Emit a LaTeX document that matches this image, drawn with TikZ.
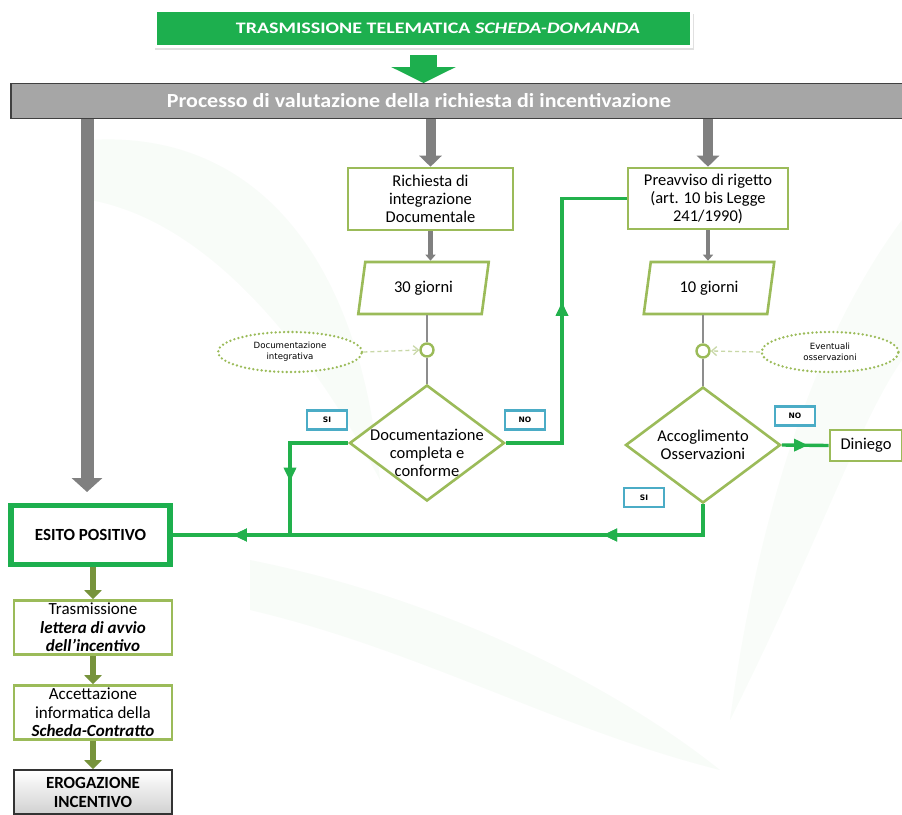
\documentclass[tikz,border=0pt]{standalone}
\usepackage{fontspec}
\setmainfont{Carlito}
\newfontfamily\vfont{DejaVu Sans}
\usetikzlibrary{arrows.meta,shapes.geometric,decorations.markings,calc}
\definecolor{gbright}{HTML}{1DAF4E}
\definecolor{conn}{HTML}{22B14C}
\definecolor{lgreen}{HTML}{9BBB59}
\definecolor{olive}{HTML}{77933C}
\definecolor{barg}{HTML}{A6A6A6}
\definecolor{darrow}{HTML}{808080}
\definecolor{sky}{HTML}{4BACC6}
\definecolor{dashc}{HTML}{C9D8A8}
\begin{document}
\begin{tikzpicture}[x=1pt,y=-1pt,
  boxtxt/.style={font=\fontsize{16.5}{18}\selectfont, align=center},
  gbox/.style={draw=lgreen, line width=2.6pt, fill=white, inner sep=0pt, boxtxt},
  para/.style={trapezium, trapezium left angle=76, trapezium right angle=104, trapezium stretches=true, draw=lgreen, line width=2.6pt, fill=white, inner sep=0pt, minimum width=131pt, minimum height=52pt, boxtxt},
  dia/.style={diamond, draw=lgreen, line width=2.6pt, fill=white, inner sep=0pt, minimum width=155pt, minimum height=116pt},
  tag/.style={draw=sky, line width=2.2pt, fill=white, minimum width=40pt, minimum height=19pt, inner sep=0pt, font=\vfont\bfseries\fontsize{7.5}{8}\selectfont},
  ell/.style={ellipse, draw=lgreen, line width=2.6pt, dash pattern=on 0pt off 4.2pt, line cap=round, fill=white, inner sep=0pt, align=center, font=\vfont\fontsize{8.6}{11}\selectfont},
  circ/.style={circle, draw=lgreen, line width=2.4pt, fill=white, minimum size=13pt, inner sep=0pt},
  conn/.style={draw=conn, line width=3.4pt},
  marr/.style={postaction={decorate}, decoration={markings, mark=at position #1 with {\arrow{Triangle[width=12pt,length=14pt]}}}},
  biggray/.style={draw=darrow, line width=13pt, -{Triangle[width=30pt,length=14pt]}},
  midgray/.style={draw=darrow, line width=10pt, -{Triangle[width=22pt,length=11pt]}},
  smallgray/.style={draw=darrow, line width=4.5pt, -{Triangle[width=10pt,length=6pt]}},
  thingray/.style={draw=darrow!90, line width=2pt},
  olivearr/.style={draw=olive, line width=6pt, -{Triangle[width=17pt,length=9pt]}},
  dasharr/.style={draw=dashc, line width=1.3pt, dash pattern=on 4pt off 3pt, -{Straight Barb[width=9pt,length=5pt]}}
]
\useasboundingbox (0,0) rectangle (902,814);
\fill[white] (0,0) rectangle (902,814);
% faint background swooshes
\fill[gray!60!green, opacity=0.035] (90,140) .. controls (250,130) and (360,250) .. (380,480) .. controls (300,330) and (200,220) .. (90,200) -- cycle;
\fill[gray!60!green, opacity=0.035] (250,560) .. controls (450,600) and (620,690) .. (720,770) .. controls (560,730) and (420,650) .. (250,610) -- cycle;
\fill[gray!50!green, opacity=0.03] (902,220) .. controls (820,330) and (760,500) .. (730,720) .. controls (820,540) and (860,420) .. (902,360) -- cycle;

% top box
\fill[black, opacity=0.12] (155,14) rectangle (694,50);
\fill[white] (153,9) rectangle (693,48);
\node[fill=gbright, minimum width=533pt, minimum height=33pt, inner sep=0pt] (top) at (423.5,28.5) {};
\node[text=white, inner sep=0pt, font=\bfseries\fontsize{16}{18}\selectfont] (toptext) at (438,28.5) {\scalebox{1.25}[1]{TRASMISSIONE TELEMATICA \textit{SCHEDA-DOMANDA}}};

% gray bar
\node[fill=barg, draw=black!75, line width=1.8pt, minimum width=898pt, minimum height=35pt, inner sep=0pt] (bar) at (460,101) {};
\node[text=white, font=\bfseries\fontsize{20}{22}\selectfont, inner sep=0pt] (bartext) at (419,101) {\scalebox{1.1}[1]{Processo di valutazione della richiesta di incentivazione}};

% green block arrow
\coordinate (ga) at (423.5,83);
\draw[draw=gbright, line width=27pt, -{Triangle[width=64pt,length=16pt]}] (top.south |- 0,55) -- (ga);

% boxes
\node[gbox, minimum width=165pt, minimum height=62pt] (ric) at (430.5,199) {Richiesta di\\integrazione\\Documentale};
\node[gbox, minimum width=160pt, minimum height=61pt] (pre) at (708,198.5) {Preavviso di rigetto\\(art. 10 bis Legge\\241/1990)};
\node[para] (p1) at (423.5,288) {30 giorni};
\node[para] (p2) at (709,288) {10 giorni};
\node[circ] (c1) at (427,350) {};
\node[circ] (c2) at (703,351) {};
\node[ell, minimum width=144pt, minimum height=40pt] (e1) at (290,352) {Documentazione\\integrativa};
\node[ell, minimum width=137pt, minimum height=40pt] (e2) at (830,352) {Eventuali\\osservazioni};
\node[dia] (d1) at (427,443) {};
\node[boxtxt, inner sep=0pt] (d1t) at (427,453) {Documentazione\\completa e\\conforme};
\node[dia] (d2) at (703,445) {};
\node[boxtxt, inner sep=0pt] (d2t) at (703,445) {Accoglimento\\Osservazioni};
\node[gbox, minimum width=72pt, minimum height=31pt] (din) at (866,445.5) {Diniego};
\node[tag] (si1) at (327,420) {SI};
\node[tag] (no1) at (525,420) {NO};
\node[tag] (no2) at (795,416) {NO};
\node[tag] (si2) at (644,497.5) {SI};

% left column
\node[draw=gbright, line width=5.5pt, fill=white, minimum width=159pt, minimum height=59pt, inner sep=0pt, font=\bfseries\fontsize{17}{19}\selectfont] (esito) at (90.5,535) {ESITO POSITIVO};
\node[gbox, minimum width=158pt, minimum height=54pt, font=\fontsize{17}{18.5}\selectfont] (tra) at (93,627.5) {Trasmissione\\\textbf{\textit{lettera di avvio}}\\\textbf{\textit{dell’incentivo}}};
\node[gbox, minimum width=158pt, minimum height=54pt, font=\fontsize{17}{18.5}\selectfont] (acc) at (93,712.5) {Accettazione\\informatica della\\\textbf{\textit{Scheda-Contratto}}};
\node[draw=black!80, line width=1.6pt, top color=white, bottom color=black!18, minimum width=158pt, minimum height=44pt, inner sep=0pt, align=center, font=\bfseries\fontsize{17}{19}\selectfont] (ero) at (93,792) {EROGAZIONE\\INCENTIVO};

% gray arrows from bar
\coordinate (a1) at (87,492);
\draw[biggray] (bar.south -| a1) -- (a1);
\draw[midgray] (bar.south -| ric.north) -- (ric.north);
\draw[midgray] (bar.south -| pre.north) -- (pre.north);
\draw[smallgray] (ric.south) -- (p1.north -| ric.south);
\draw[smallgray] (pre.south) -- (p2.north -| pre.south);
\draw[thingray] (p1.south -| c1) -- (c1.north);
\draw[thingray] (c1.south) -- (d1.north);
\draw[thingray] (p2.south -| c2) -- (c2.north);
\draw[thingray] (c2.south) -- (d2.north);
\draw[dasharr] (e1.east) -- (c1.west);
\draw[dasharr] (e2.west) -- (c2.east);

% green connectors
\coordinate (j1) at (290,536);
\coordinate (n1) at (562,300);
\draw[conn, marr=0.64] (d1.west) -| (j1);
\draw[conn, marr=0.54] (d1.east) -| (n1) |- (pre.west);
\draw[conn, marr=0.233, marr=0.893] (d2.south) |- (esito.east);
\draw[conn, marr=0.56] (d2.east) -- (din.west);

% olive arrows
\draw[olivearr] (esito.south -| tra.north) -- (tra.north);
\draw[olivearr] (tra.south) -- (acc.north);
\draw[olivearr] (acc.south) -- (ero.north);
\end{tikzpicture}
\end{document}
